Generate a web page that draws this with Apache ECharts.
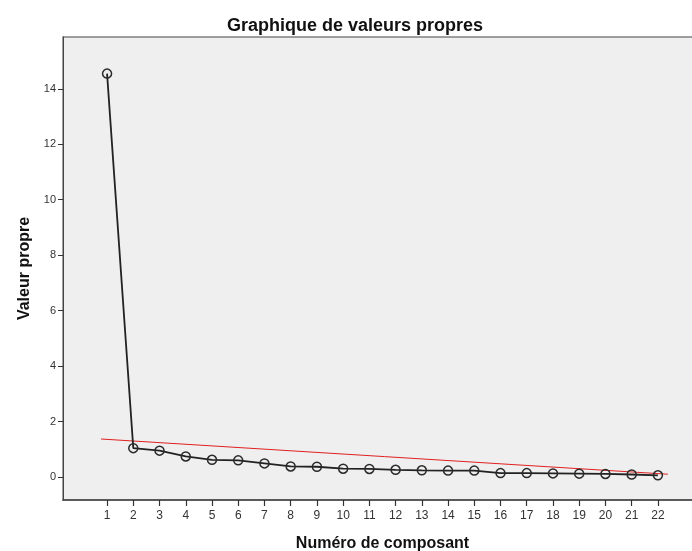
<!DOCTYPE html>
<html>
<head>
<meta charset="utf-8">
<script src="https://cdn.jsdelivr.net/npm/echarts@6/dist/echarts.min.js"></script>
<style>
  html, body { margin: 0; padding: 0; background: #fff; }
  #chart { width: 692px; height: 551px; }
</style>
</head>
<body>
<div id="chart"></div>
<script>
// numéros de composant et valeurs propres
const components = [1, 2, 3, 4, 5, 6, 7, 8, 9, 10, 11, 12, 13, 14, 15, 16, 17, 18, 19, 20, 21, 22];
const eigenvalues = [14.55, 1.04, 0.95, 0.74, 0.62, 0.60, 0.49, 0.38, 0.37, 0.30, 0.29, 0.26,
  0.24, 0.23, 0.23, 0.14, 0.14, 0.13, 0.12, 0.11, 0.09, 0.06];
// droite rouge
const refLineX = [0.77, 22.38];
const refLineY = [1.37, 0.10];
const yTicks = [0, 2, 4, 6, 8, 10, 12, 14];

const chart = echarts.init(document.getElementById('chart'));

const font = 'Liberation Sans, Arial, sans-serif';

chart.setOption({
  animation: false,
  title: {
    text: 'Graphique de valeurs propres',
    left: 350,
    top: 12,
    textAlign: 'center',
    textStyle: { fontFamily: font, fontSize: 18, fontWeight: 'bold', color: '#111' }
  },
  grid: {
    left: 63, top: 37, right: -4, bottom: 51,
    containLabel: false,
    outerBoundsMode: 'none',
    show: true,
    backgroundColor: '#efefef',
    borderColor: '#808080',
    borderWidth: 1.5
  },
  xAxis: {
    type: 'value',
    min: -0.68,
    max: 23.3 + 4 / 26.23,
    name: 'Numéro de composant',
    nameLocation: 'middle',
    nameGap: 36,
    nameTextStyle: { fontFamily: font, fontSize: 16, fontWeight: 'bold', color: '#111', padding: [0, 0, 0, 6] },
    axisLine: { onZero: false, lineStyle: { color: '#444', width: 1.5 } },
    axisTick: { show: true, length: 6, customValues: components, lineStyle: { color: '#333', width: 1.2 } },
    axisLabel: { customValues: components, fontFamily: font, fontSize: 12, color: '#333', margin: 10 },
    splitLine: { show: false }
  },
  yAxis: {
    type: 'value',
    min: -0.83,
    max: 15.87,
    name: 'Valeur propre',
    nameLocation: 'middle',
    nameGap: 30,
    nameTextStyle: { fontFamily: font, fontSize: 16, fontWeight: 'bold', color: '#111' },
    axisLine: { show: true, onZero: false, lineStyle: { color: '#444', width: 1 } },
    axisTick: { show: true, length: 5, customValues: yTicks, lineStyle: { color: '#333' } },
    axisLabel: { customValues: yTicks, fontFamily: font, fontSize: 11, color: '#333', margin: 7 },
    splitLine: { show: false }
  },
  series: [
    {
      type: 'line',
      data: refLineX.map((x, i) => [x, refLineY[i]]),
      symbol: 'none',
      lineStyle: { color: '#e02020', width: 1 },
      z: 2
    },
    {
      type: 'line',
      data: components.map((c, i) => [c, eigenvalues[i]]),
      symbol: 'circle',
      symbolSize: 9,
      itemStyle: { color: 'rgba(0,0,0,0)', borderColor: '#2a2a2a', borderWidth: 1.5 },
      lineStyle: { color: '#222', width: 1.8 },
      z: 3
    }
  ]
});
</script>
</body>
</html>
